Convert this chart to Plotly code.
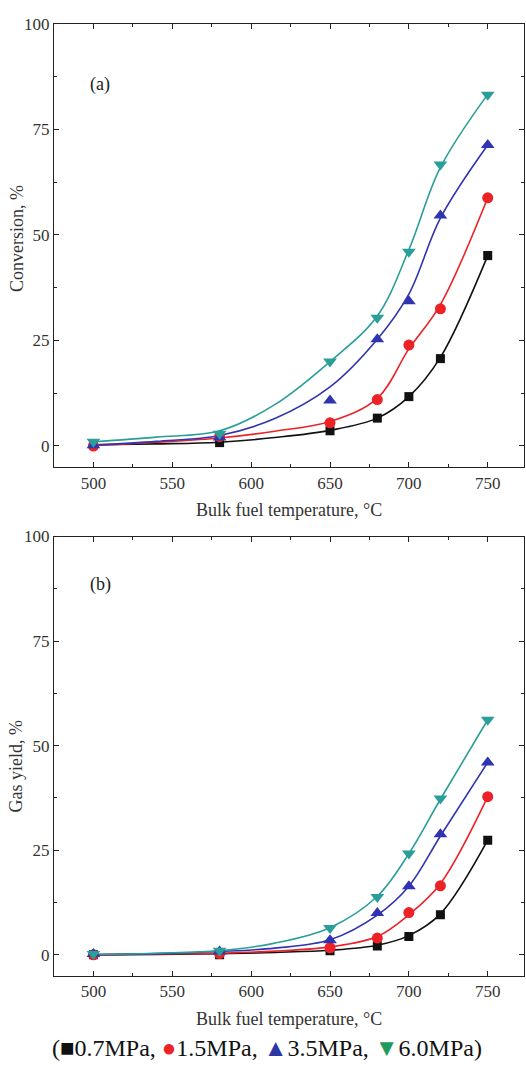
import plotly.graph_objects as go

W, H = 526, 1066

# ---------------- data ----------------
temps = [500, 580, 650, 680, 700, 720, 750]
fit_temps = [500, 540, 580, 615, 650, 680, 700, 720, 750]

series_names = ["0.7MPa", "1.5MPa", "3.5MPa", "6.0MPa"]

# (a) Conversion, %
conv_07 = [0.3, 0.8, 3.6, 6.6, 11.7, 20.7, 45.1]
conv_15 = [0.0, 2.2, 5.5, 11.0, 23.9, 32.5, 58.8]
conv_35 = [0.2, 2.0, 10.8, 25.3, 34.3, 54.6, 71.3]
conv_60 = [1.0, 2.9, 20.0, 30.4, 46.0, 66.7, 83.2]

conv_fit_07 = [0.3, 0.5, 0.9, 2.0, 3.7, 6.6, 11.7, 21.0, 45.1]
conv_fit_15 = [0.1, 0.9, 1.9, 3.5, 5.8, 11.3, 23.0, 33.5, 58.8]
conv_fit_35 = [0.2, 1.1, 2.5, 6.5, 14.0, 25.3, 36.0, 54.0, 71.3]
conv_fit_60 = [1.0, 2.1, 3.6, 9.8, 20.0, 30.8, 46.5, 66.0, 83.3]

# (b) Gas yield, %
gas_07 = [0.0, 0.0, 1.0, 2.1, 4.4, 9.6, 27.4]
gas_15 = [0.0, 0.3, 1.7, 4.0, 10.1, 16.5, 37.8]
gas_35 = [0.2, 0.8, 3.5, 10.0, 16.4, 28.8, 46.0]
gas_60 = [0.2, 1.0, 6.4, 13.8, 24.2, 37.4, 56.2]

gas_fit_07 = [0.0, 0.1, 0.3, 0.6, 1.1, 2.3, 4.6, 9.8, 27.4]
gas_fit_15 = [0.0, 0.2, 0.4, 0.9, 1.9, 4.4, 9.6, 17.0, 37.8]
gas_fit_35 = [0.1, 0.3, 0.8, 1.6, 3.6, 9.5, 16.4, 28.4, 46.0]
gas_fit_60 = [0.1, 0.4, 1.0, 2.8, 6.5, 14.0, 24.2, 37.2, 56.2]

x_ticks = [500, 550, 600, 650, 700, 750]
y_ticks = [0, 25, 50, 75, 100]

# ---------------- styles ----------------
colors = ["#111111", "#ec2227", "#3034b0", "#2a9e98"]
legend_colors = ["#111111", "#ec2227", "#2b37a6", "#1f9a5e"]
symbols = ["square", "circle", "triangle-up", "triangle-down"]
msizes = [9, 11, 12, 12]
FONT = "Liberation Serif"

fig = go.Figure()

panels = [
    ("x", "y", [conv_07, conv_15, conv_35, conv_60], [conv_fit_07, conv_fit_15, conv_fit_35, conv_fit_60]),
    ("x2", "y2", [gas_07, gas_15, gas_35, gas_60], [gas_fit_07, gas_fit_15, gas_fit_35, gas_fit_60]),
]

for xa, ya, data, fits in panels:
    for i in range(4):
        fig.add_trace(go.Scatter(
            x=fit_temps, y=fits[i], mode="lines", line=dict(color=colors[i], width=1.6, shape="spline"),
            xaxis=xa, yaxis=ya, showlegend=False, hoverinfo="skip"))
    for i in range(4):
        fig.add_trace(go.Scatter(
            x=temps, y=data[i], mode="markers", name=series_names[i],
            marker=dict(symbol=symbols[i], size=msizes[i], color=colors[i], line=dict(width=0)),
            xaxis=xa, yaxis=ya, showlegend=False))

def px_x(p):
    return p / W

def px_y(p):
    return 1 - p / H

xdom = [px_x(54), px_x(524)]
top_dom = [px_y(462), px_y(15)]
bot_dom = [px_y(975), px_y(532)]

tickfont = dict(family=FONT, size=17, color="#333333")
common_x = dict(
    range=[475, 773], tickvals=x_ticks, ticks="inside", ticklen=5, tickwidth=1.2,
    tickcolor="#222222", showline=True, linecolor="#222222", linewidth=1.4, mirror="ticks",
    showgrid=False, zeroline=False, tickfont=tickfont,
    minor=dict(ticks="inside", ticklen=3, tick0=500, dtick=25, tickcolor="#222222", showgrid=False),
)
common_y = dict(
    range=[-5, 100], tickvals=y_ticks, ticks="inside", ticklen=5, tickwidth=1.2,
    tickcolor="#222222", showline=True, linecolor="#222222", linewidth=1.4, mirror="ticks",
    showgrid=False, zeroline=False, tickfont=tickfont,
    minor=dict(ticks="inside", ticklen=3, tick0=0, dtick=12.5, tickcolor="#222222", showgrid=False),
)

fig.update_layout(
    width=W, height=H,
    margin=dict(l=0, r=0, t=0, b=0),
    paper_bgcolor="white", plot_bgcolor="white",
    showlegend=False,
    xaxis=dict(domain=xdom, anchor="y", **common_x),
    yaxis=dict(domain=top_dom, anchor="x", **common_y),
    xaxis2=dict(domain=xdom, anchor="y2", **common_x),
    yaxis2=dict(domain=bot_dom, anchor="x2", **common_y),
)

title_font = dict(family=FONT, size=18, color="#333333")
ann = [
    dict(text="Bulk fuel temperature, °C", x=px_x(289), y=px_y(505), font=title_font),
    dict(text="Bulk fuel temperature, °C", x=px_x(289), y=px_y(1019), font=title_font),
    dict(text="Conversion, %", x=px_x(17), y=px_y(232), textangle=-90, font=title_font),
    dict(text="Gas yield, %", x=px_x(16), y=px_y(764), textangle=-90, font=title_font),
    dict(text="(a)", x=px_x(100), y=px_y(76), font=dict(family=FONT, size=18, color="#222222")),
    dict(text="(b)", x=px_x(100), y=px_y(580), font=dict(family=FONT, size=18, color="#222222")),
]
marks = ["■", "●", "▲", "▼"]
legend_txt = "(" + ", ".join(
    f"<span style='color:{legend_colors[i]}'>{marks[i]}</span>{series_names[i]}" for i in range(4)
) + ")"
ann.append(dict(text=legend_txt, x=px_x(267), y=px_y(1048),
                font=dict(family=FONT, size=24, color="#111111")))

for a in ann:
    a.update(xref="paper", yref="paper", showarrow=False, xanchor="center", yanchor="middle")
fig.update_layout(annotations=ann)

fig.write_html("out.html")
